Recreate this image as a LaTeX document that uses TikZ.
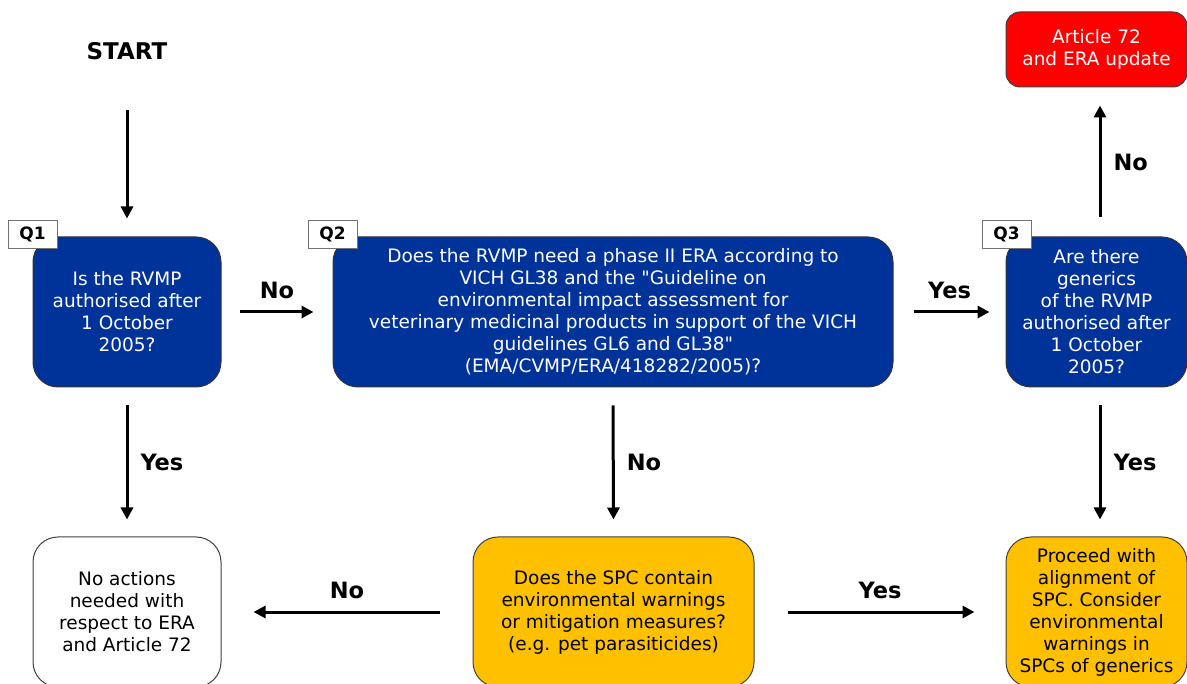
\documentclass[tikz,border=0pt]{standalone}
\usepackage{fontspec}
\setmainfont{DejaVu Sans}
\newfontfamily\plainq{DejaVu Sans}
\usetikzlibrary{arrows.meta}
\definecolor{qblue}{RGB}{0,51,153}
\definecolor{amber}{RGB}{255,192,0}
\definecolor{alertred}{RGB}{255,0,0}
\newcommand{\sq}{{\plainq"}}
\begin{document}
\begin{tikzpicture}[x=1pt,y=-1pt,
  box/.style={rectangle, rounded corners=25pt, draw=black!75, line width=1pt, align=center,
    font=\fontsize{18.5}{22}\selectfont, inner sep=0pt},
  qbox/.style={box, fill=qblue, draw=black!80, text=white},
  ambox/.style={box, fill=amber, text=black},
  tag/.style={rectangle, draw=black!55, fill=white, line width=0.8pt, minimum width=49pt,
    minimum height=28pt, font=\bfseries\fontsize{17}{20}\selectfont, inner sep=0pt},
  lbl/.style={font=\bfseries\fontsize{22.5}{26}\selectfont, inner sep=0pt},
  arr/.style={line width=3pt, -{Triangle[length=12pt,width=12pt]}}]
\useasboundingbox (0,0) rectangle (1187,684);
\begin{scope}
\clip (0,0) rectangle (1187,684);
% nodes
\node[lbl, font=\bfseries\fontsize{23}{26}\selectfont] (start) at (127,51) {START};
\node[qbox, minimum width=188pt, minimum height=150pt] (q1) at (127,312)
  {Is the RVMP\\authorised after\\1 October\\2005?};
\node[qbox, minimum width=560pt, minimum height=150pt] (q2) at (613,312)
  {Does the RVMP need a phase II ERA according to\\VICH GL38 and the \sq Guideline on\\environmental impact assessment for\\veterinary medicinal products in support of the VICH\\guidelines GL6 and GL38\sq\\(EMA/CVMP/ERA/418282/2005)?};
\node[qbox, minimum width=181pt, minimum height=150pt] (q3) at (1096.5,312)
  {Are there\\generics\\of the RVMP\\authorised after\\1 October\\2005?};
\node[box, fill=alertred, text=white, minimum width=181pt, minimum height=75pt, rounded corners=14pt] (art) at (1096.5,49.5)
  {Article 72\\and ERA update};
\node[box, fill=white, minimum width=188pt, minimum height=150pt] (none) at (127,612)
  {No actions\\needed with\\respect to ERA\\and Article 72};
\node[ambox, minimum width=281pt, minimum height=150pt] (spc) at (613.5,612)
  {Does the SPC contain\\environmental warnings\\or mitigation measures?\\(e.g. pet parasiticides)};
\node[ambox, minimum width=181pt, minimum height=150pt] (align) at (1096.5,612)
  {Proceed with\\alignment of\\SPC. Consider\\environmental\\warnings in\\SPCs of generics};
% tags
\node[tag] (t1) at (32.5,234) {Q1};
\node[tag] (t2) at (332.5,234) {Q2};
\node[tag] (t3) at (1006.5,234) {Q3};
% connectors
\coordinate (s0) at (127,110);
\draw[arr, shorten >=18pt] (s0) -- (q1.north);
\draw[arr, shorten <=18pt, shorten >=19pt] (q1.east) -- node[lbl, above=12pt] {No} (q2.west);
\draw[arr, shorten <=20pt, shorten >=16pt] (q2.east) -- node[lbl, above=12pt] {Yes} (q3.west);
\draw[arr, shorten <=19pt, shorten >=18pt] ([xshift=3.5pt]q3.north) -- node[lbl, right=12pt] {No} ([xshift=3.5pt]art.south);
\draw[arr, shorten <=18pt, shorten >=17pt] (q1.south) -- node[lbl, right=12pt] {Yes} (none.north);
\draw[arr, shorten <=18pt, shorten >=17pt] (q2.south) -- node[lbl, right=12pt] {No} (spc.north);
\draw[arr, shorten <=18pt, shorten >=17pt] ([xshift=3.5pt]q3.south) -- node[lbl, right=12pt] {Yes} ([xshift=3.5pt]align.north);
\draw[arr, shorten <=33pt, shorten >=32pt] (spc.west) -- node[lbl, above=12pt] {No} (none.east);
\draw[arr, shorten <=33pt, shorten >=31pt] (spc.east) -- node[lbl, above=12pt] {Yes} (align.west);
\end{scope}
\end{tikzpicture}
\end{document}
